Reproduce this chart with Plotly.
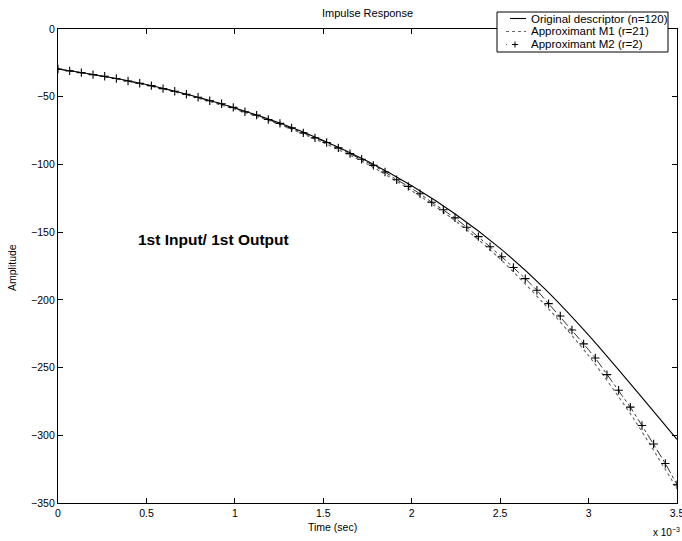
import plotly.graph_objects as go

# Time axis (units of 1e-3 s) of the sampled approximant points
time_ms = [0.000, 0.066, 0.132, 0.198, 0.264, 0.330, 0.396, 0.462, 0.528, 0.594,
           0.660, 0.726, 0.792, 0.858, 0.925, 0.991, 1.057, 1.123, 1.189, 1.255,
           1.321, 1.387, 1.453, 1.519, 1.585, 1.651, 1.717, 1.783, 1.849, 1.915,
           1.981, 2.047, 2.113, 2.179, 2.245, 2.311, 2.377, 2.443, 2.509, 2.575,
           2.642, 2.708, 2.774, 2.840, 2.906, 2.972, 3.038, 3.104, 3.170, 3.236,
           3.302, 3.368, 3.434, 3.500]

# Approximant M2 (r=2) values
m2_vals = [-29.5, -30.9, -32.2, -33.7, -34.9, -36.6, -38.4, -40.1, -41.8, -44.0,
           -46.0, -48.2, -50.4, -53.0, -55.2, -57.9, -61.1, -63.6, -66.8, -69.7,
           -73.0, -76.7, -80.4, -83.8, -87.8, -92.0, -96.2, -100.7, -105.6, -111.3,
           -116.2, -121.7, -127.9, -133.5, -139.5, -146.4, -153.3, -160.8, -168.2, -176.1,
           -184.3, -192.9, -202.8, -211.9, -222.3, -232.5, -242.9, -255.2, -266.8, -279.2,
           -292.8, -306.4, -320.8, -336.5]

# Original descriptor (n=120) and approximant M1 (r=21), read on a 0.25 grid
grid_ms = [0.0, 0.25, 0.5, 0.75, 1.0, 1.25, 1.5, 1.75, 2.0, 2.25, 2.5, 2.75, 3.0, 3.25, 3.5]
orig_vals = [-29.5, -34.7, -41.0, -48.9, -58.3, -69.3, -82.3, -97.7, -115.8, -137.0,
             -162.0, -191.5, -226.0, -264.0, -303.0]
m1_vals = [-29.5, -35.0, -41.5, -49.6, -59.3, -70.4, -84.0, -99.8, -119.4, -142.0,
           -169.8, -203.2, -241.2, -286.8, -339.5]

series_names = ["Original descriptor (n=120)", "Approximant M1 (r=21)", "Approximant M2 (r=2)"]

x_ticks = [0, 0.5, 1, 1.5, 2, 2.5, 3, 3.5]
x_tick_text = ["0", "0.5", "1", "1.5", "2", "2.5", "3", "3.5"]
y_ticks = [0, -50, -100, -150, -200, -250, -300, -350]

FONT = "Liberation Sans, Arial, Helvetica, sans-serif"

fig = go.Figure()
fig.add_trace(go.Scatter(
    x=grid_ms, y=orig_vals, mode="lines", name=series_names[0],
    line=dict(color="black", width=1.1, shape="spline", smoothing=0.8)))
fig.add_trace(go.Scatter(
    x=grid_ms, y=m1_vals, mode="lines", name=series_names[1],
    line=dict(color="#666666", width=1.1, dash="dot", shape="spline", smoothing=0.8)))
fig.add_trace(go.Scatter(
    x=time_ms, y=m2_vals, mode="lines+markers", name=series_names[2],
    line=dict(color="black", width=0.8, dash="dashdot"),
    marker=dict(symbol="cross-thin-open", size=6, color="black",
                line=dict(color="black", width=1.1))))

axis_common = dict(
    showline=True, linecolor="black", linewidth=1.3, mirror="ticks",
    ticks="inside", ticklen=5, tickcolor="black", tickwidth=1,
    showgrid=False, zeroline=False, ticklabeloverflow="allow", automargin=False,
    tickfont=dict(family=FONT, size=10.5, color="black"))

fig.update_xaxes(range=[0, 3.5], tickvals=x_ticks, ticktext=x_tick_text, **axis_common)
fig.update_yaxes(range=[-350, 0], tickvals=y_ticks, **axis_common)

# ---- manual MATLAB-style legend (pixel-sized) ----
PL, PT, PW, PH = 58, 29, 619, 474


def px(xp):
    return (xp - PL) / PW


def py(yp):
    return (PT + PH - yp) / PH


shapes = [dict(type="rect", xref="paper", yref="paper", layer="above",
               x0=px(497), x1=px(668), y0=py(52), y1=py(12),
               line=dict(color="black", width=1), fillcolor="white")]
row_y = [18.5, 31.5, 44.5]
shapes.append(dict(type="line", xref="paper", yref="paper", layer="above",
                   x0=px(510), x1=px(526), y0=py(row_y[0]), y1=py(row_y[0]),
                   line=dict(color="black", width=1.1)))
shapes.append(dict(type="line", xref="paper", yref="paper", layer="above",
                   x0=px(506), x1=px(526), y0=py(row_y[1]), y1=py(row_y[1]),
                   line=dict(color="#666666", width=1.1, dash="dot")))
shapes.append(dict(type="line", xref="paper", yref="paper", layer="above",
                   x0=px(512), x1=px(518), y0=py(row_y[2]), y1=py(row_y[2]),
                   line=dict(color="black", width=1)))
shapes.append(dict(type="line", xref="paper", yref="paper", layer="above",
                   x0=px(515), x1=px(515), y0=py(row_y[2] - 3), y1=py(row_y[2] + 3),
                   line=dict(color="black", width=1)))
shapes.append(dict(type="line", xref="paper", yref="paper", layer="above",
                   x0=px(506), x1=px(507), y0=py(row_y[2]), y1=py(row_y[2]),
                   line=dict(color="#666666", width=1)))

annotations = []
for name, yy in zip(series_names, row_y):
    annotations.append(dict(x=px(529), y=py(yy), xref="paper", yref="paper",
                            xanchor="left", yanchor="middle", text=name, showarrow=False,
                            font=dict(family=FONT, size=11.5, color="black")))

annotations += [
    dict(x=0.88, y=-155.6, xref="x", yref="y", text="<b>1st Input/ 1st Output</b>",
         showarrow=False, font=dict(family=FONT, size=15.5, color="black")),
    dict(x=3.5, y=-350, xref="x", yref="y", xanchor="right", yanchor="top",
         xshift=5, yshift=-21, text="x 10<sup>−3</sup>", showarrow=False,
         font=dict(family=FONT, size=10, color="black")),
    dict(x=px(332), y=py(527), xref="paper", yref="paper", xanchor="center", yanchor="middle",
         text="Time (sec)", showarrow=False, font=dict(family=FONT, size=10.5, color="black")),
    dict(x=px(12), y=py(268), xref="paper", yref="paper", xanchor="center", yanchor="middle",
         text="Amplitude", textangle=-90, showarrow=False,
         font=dict(family=FONT, size=10.5, color="black")),
    dict(x=px(367.5), y=py(12.5), xref="paper", yref="paper", xanchor="center", yanchor="middle",
         text="Impulse Response", showarrow=False,
         font=dict(family=FONT, size=11, color="black")),
]

fig.update_layout(
    width=682, height=541,
    margin=dict(l=PL, r=682 - PL - PW, t=PT, b=541 - PT - PH),
    paper_bgcolor="white", plot_bgcolor="white",
    showlegend=False,
    shapes=shapes,
    annotations=annotations,
)

fig.write_html("out.html")
